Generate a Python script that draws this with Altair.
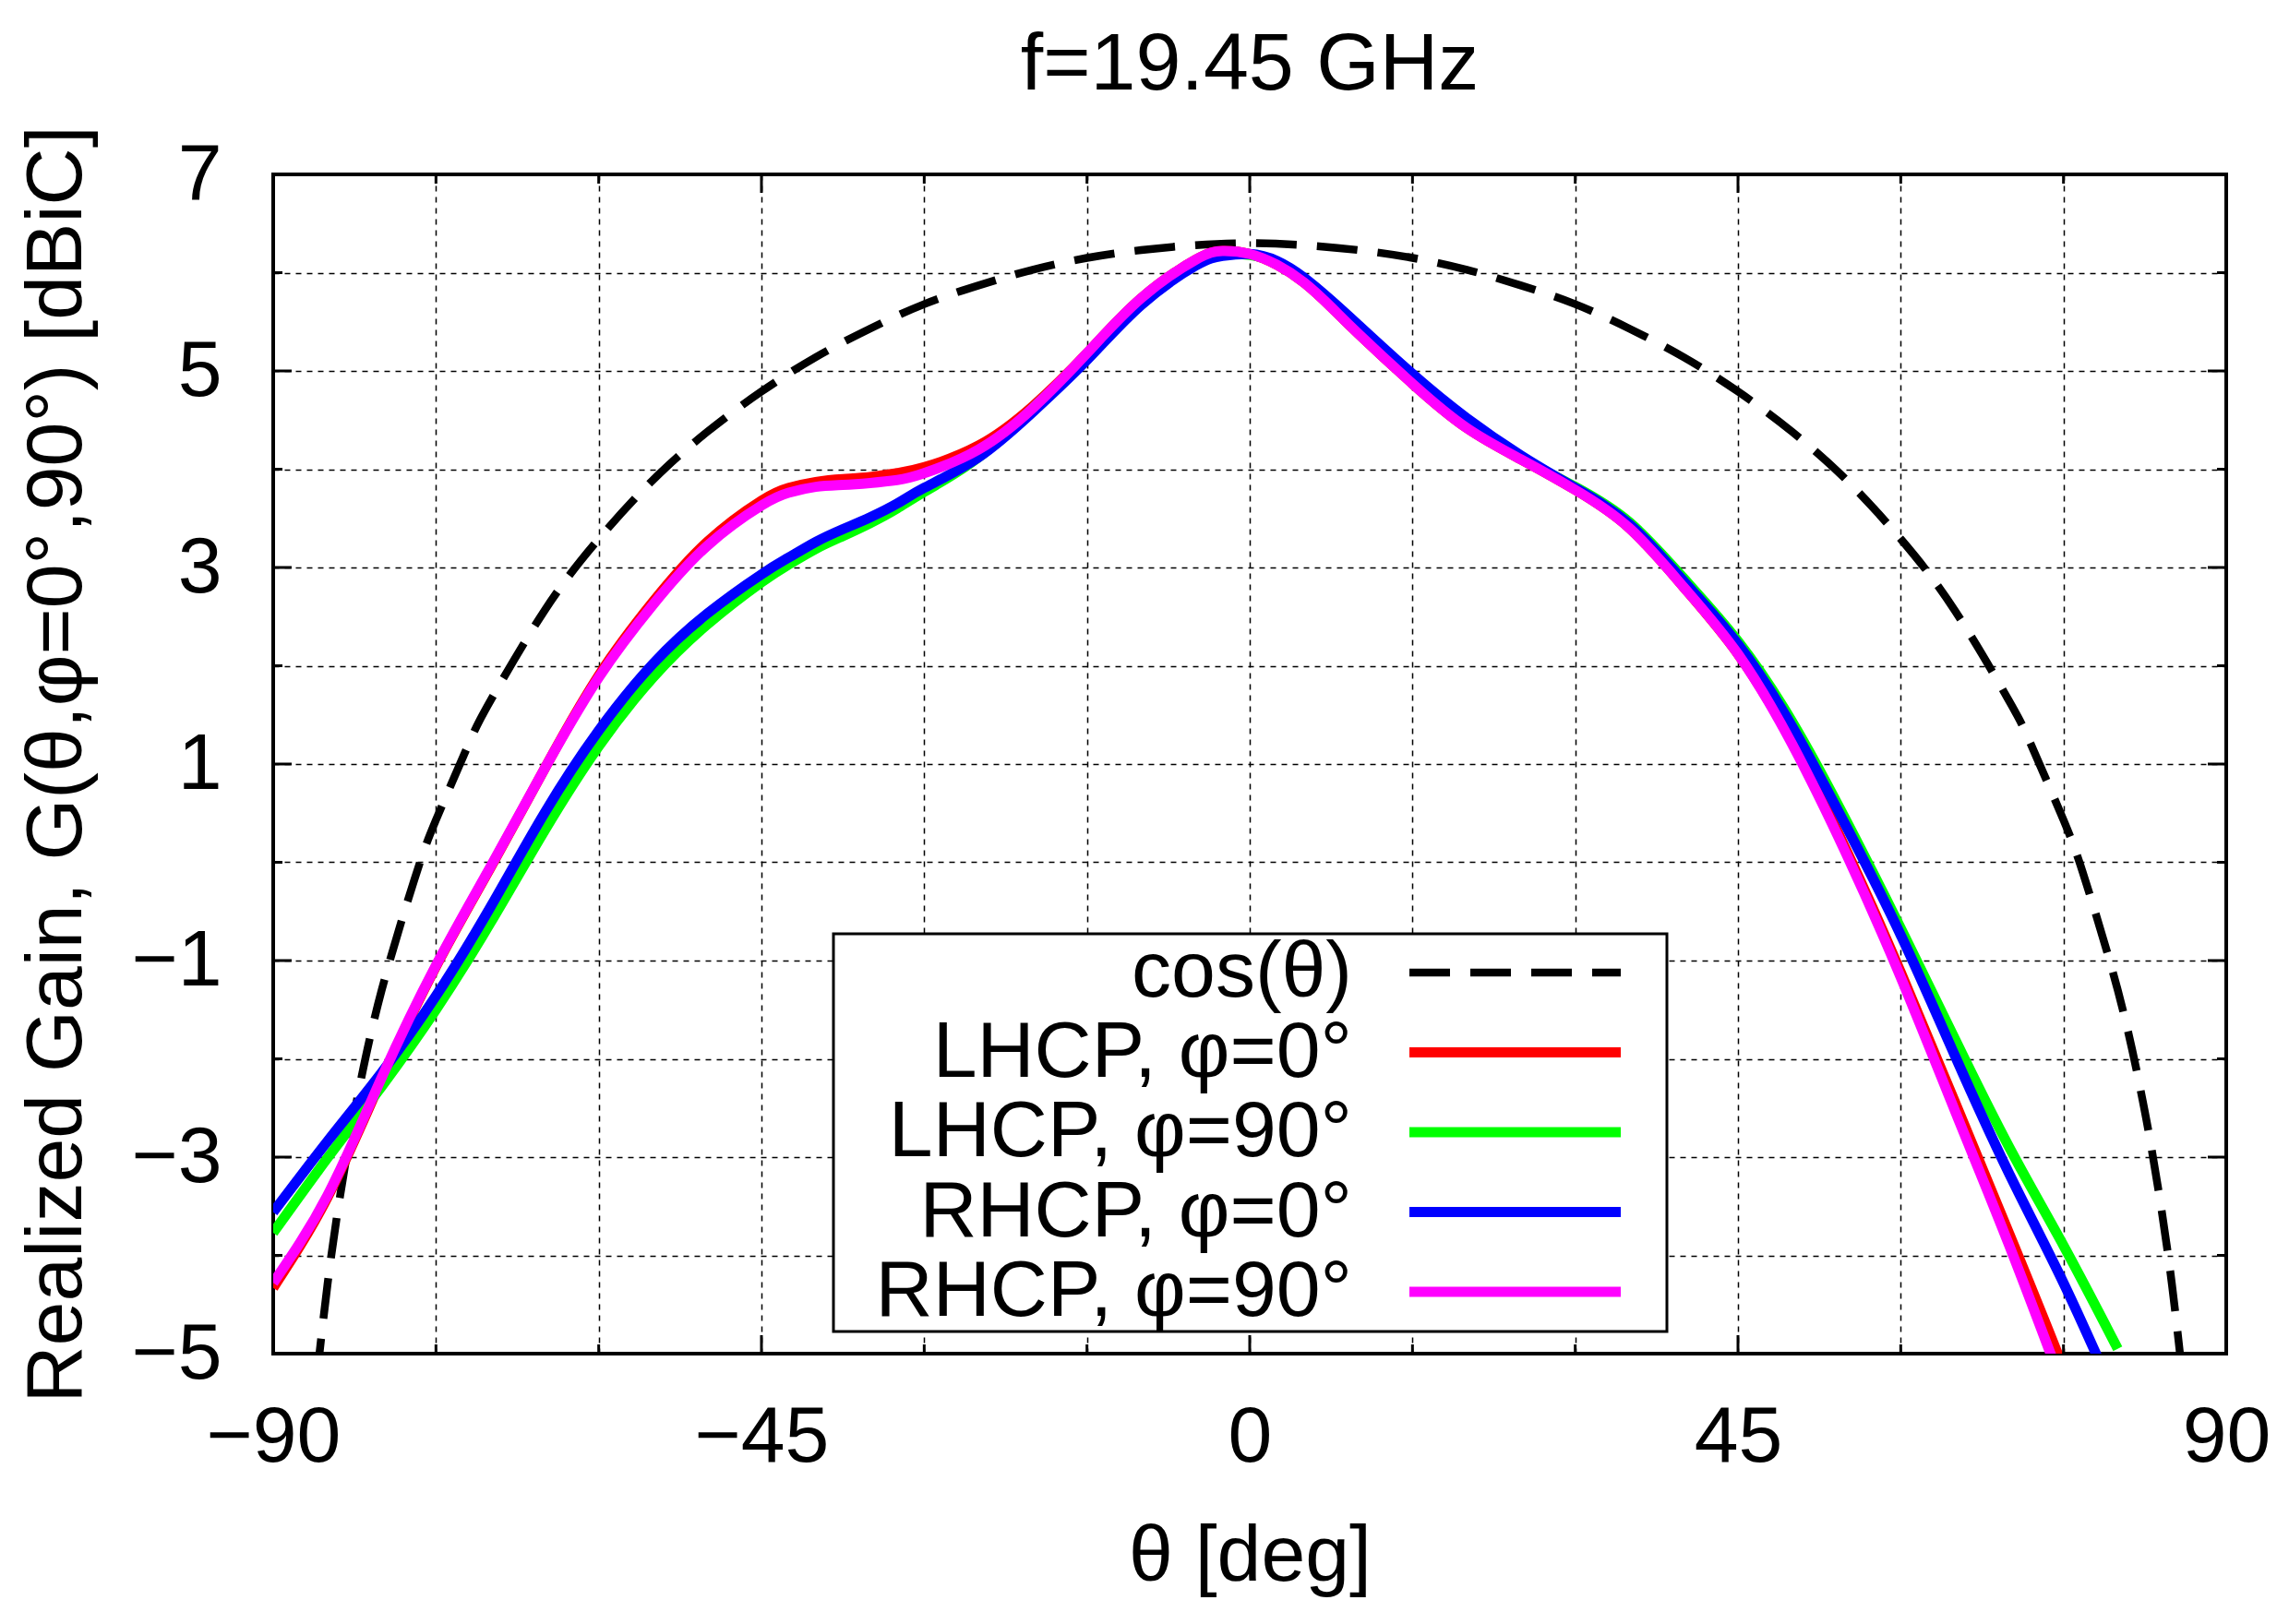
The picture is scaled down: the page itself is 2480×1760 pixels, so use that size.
import altair as alt
import pandas as pd

# ---------------- data ----------------
THETA = [-90, -85, -80, -75, -70, -65, -60, -55, -50, -45, -42.5, -40, -37.5, -35, -32.5,
         -30, -25, -20, -15, -10, -5, -2.5, 0, 2.5, 5, 7.5, 10, 15, 20, 25, 30, 35, 40, 45,
         50, 55, 60, 65, 70, 75, 80]

LHCP_PHI0 = [-4.33, -3.41, -2.21, -1.06, -0.06, 0.95, 1.90, 2.65, 3.26, 3.68, 3.81, 3.87, 3.90, 3.92, 3.96,
             4.02, 4.24, 4.64, 5.18, 5.74, 6.13, 6.22, 6.19, 6.08, 5.90, 5.65, 5.38, 4.87, 4.42, 4.10, 3.79,
             3.40, 2.80, 2.12, 1.22, 0.12, -1.12, -2.44, -3.78, -5.15, -6.60]

LHCP_PHI90 = [-3.77, -3.01, -2.28, -1.50, -0.62, 0.32, 1.18, 1.88, 2.42, 2.85, 3.03, 3.19, 3.32, 3.45, 3.60,
              3.77, 4.12, 4.62, 5.15, 5.71, 6.10, 6.19, 6.18, 6.10, 5.92, 5.68, 5.42, 4.92, 4.48, 4.12, 3.82,
              3.46, 2.89, 2.25, 1.43, 0.42, -0.67, -1.80, -2.90, -3.90, -4.95]

RHCP_PHI0 = [-3.56, -2.84, -2.14, -1.36, -0.46, 0.50, 1.34, 2.02, 2.53, 2.93, 3.10, 3.26, 3.39, 3.51, 3.65,
             3.81, 4.12, 4.58, 5.11, 5.67, 6.07, 6.17, 6.19, 6.12, 5.95, 5.72, 5.47, 4.97, 4.52, 4.14, 3.81,
             3.44, 2.86, 2.22, 1.38, 0.36, -0.74, -1.97, -3.17, -4.28, -5.50]

RHCP_PHI90 = [-4.28, -3.39, -2.19, -1.05, -0.05, 0.95, 1.88, 2.62, 3.22, 3.63, 3.76, 3.82, 3.84, 3.86, 3.89,
              3.96, 4.20, 4.62, 5.18, 5.74, 6.13, 6.22, 6.19, 6.08, 5.90, 5.65, 5.38, 4.87, 4.42, 4.10, 3.79,
              3.40, 2.80, 2.12, 1.20, 0.08, -1.17, -2.53, -3.90, -5.35, -6.80]

COS_THETA = [-86, -85, -84, -83, -82, -80, -77, -75, -72, -70, -65, -60, -55, -50, -45, -40, -35, -30,
             -25, -20, -15, -10, -5, 0, 5, 10, 15, 20, 25, 30, 35, 40, 45, 50, 55, 60, 65, 70, 72,
             75, 77, 80, 82, 83, 84, 85, 86]
COS_GAIN = [-5.26, -4.30, -3.51, -2.84, -2.26, -1.30, -0.18, 0.43, 1.20, 1.64, 2.56, 3.29, 3.89, 4.38, 4.79,
            5.14, 5.43, 5.68, 5.87, 6.03, 6.15, 6.23, 6.28, 6.30, 6.28, 6.23, 6.15, 6.03, 5.87, 5.68, 5.43,
            5.14, 4.79, 4.38, 3.89, 3.29, 2.56, 1.64, 1.20, 0.43, -0.18, -1.30, -2.26, -2.84, -3.51, -4.30, -5.26]

SERIES_LABELS = ["cos(θ)", "LHCP, φ=0°", "LHCP, φ=90°", "RHCP, φ=0°", "RHCP, φ=90°"]
SERIES_COLORS = ["#000000", "#ff0000", "#00ff00", "#0000ff", "#ff00ff"]

X_MAJOR = [-90, -45, 0, 45, 90]
X_MINOR = [-75, -60, -30, -15, 15, 30, 60, 75]
Y_MAJOR = [-5, -3, -1, 1, 3, 5, 7]
Y_MINOR = [-4, -2, 0, 2, 4, 6]

TITLE = "f=19.45 GHz"
X_TITLE = "θ [deg]"
Y_TITLE = "Realized Gain, G(θ,φ=0°,90°) [dBiC]"

# ---------------- styling ----------------
W, H = 2116, 1278
FONT = "Liberation Sans"
FS = 86

xscale = alt.Scale(domain=[-90, 90], nice=False, zero=False)
yscale = alt.Scale(domain=[-5, 7], nice=False, zero=False)

x_axis = alt.Axis(
    values=sorted(X_MAJOR + X_MINOR),
    labelExpr="datum.value % 45 == 0 ? replace(datum.label, '-', '\u2212') : ''",
    grid=True, gridColor="black", gridDash=[6, 6], gridWidth=1.5, gridOpacity=1,
    ticks=False, tickSize=0, domain=False,
    labelFont=FONT, labelFontSize=FS, labelColor="black",
    labelPadding=116, labelBaseline="alphabetic", labelFlush=False, labelOverlap=False,
    title=X_TITLE, titleFont=FONT, titleFontSize=FS, titleFontWeight="normal", titleColor="black",
    titleX=W / 2, titleY=245, titleBaseline="alphabetic", titleAlign="center", titleAngle=0,
)
y_axis = alt.Axis(
    values=sorted(Y_MAJOR + Y_MINOR),
    labelExpr="abs(datum.value % 2) == 1 ? replace(datum.label, '-', '\u2212') : ''",
    grid=True, gridColor="black", gridDash=[6, 6], gridWidth=1.5, gridOpacity=1,
    ticks=False, tickSize=0, domain=False,
    labelFont=FONT, labelFontSize=FS, labelColor="black",
    labelPadding=56, labelBaseline="middle", labelFlush=False, labelOverlap=False,
    title=Y_TITLE, titleFont=FONT, titleFontSize=FS, titleFontWeight="normal", titleColor="black",
    titleX=-209, titleY=H / 2, titleBaseline="alphabetic", titleAlign="center", titleAngle=270,
)


def curve(theta, gain, color, width, dash=None):
    df = pd.DataFrame({"theta": theta, "gain": gain})
    kw = dict(color=color, strokeWidth=width, clip=True, interpolate="natural", strokeCap="butt")
    if dash:
        kw["strokeDash"] = dash
    return alt.Chart(df).mark_line(**kw).encode(
        x=alt.X("theta:Q", scale=xscale, axis=x_axis),
        y=alt.Y("gain:Q", scale=yscale, axis=y_axis),
    )


layers = [
    curve(COS_THETA, COS_GAIN, SERIES_COLORS[0], 8.5, [44, 22]),
    curve(THETA, LHCP_PHI0, SERIES_COLORS[1], 11),
    curve(THETA, LHCP_PHI90, SERIES_COLORS[2], 11),
    curve(THETA, RHCP_PHI0, SERIES_COLORS[3], 11),
    curve(THETA, RHCP_PHI90, SERIES_COLORS[4], 11),
]

# inward ticks on all four sides (gnuplot style)
for vals, ln in ((X_MAJOR, 20), (X_MINOR, 10)):
    tdf = pd.DataFrame({"t": vals})
    for y0, y1 in ((H, H - ln), (0, ln)):
        layers.append(alt.Chart(tdf).mark_rule(color="black", strokeWidth=3).encode(
            x=alt.X("t:Q", scale=xscale, axis=x_axis), y=alt.value(y0), y2=alt.value(y1)))
for vals, ln in ((Y_MAJOR, 20), (Y_MINOR, 10)):
    tdf = pd.DataFrame({"t": vals})
    for x0, x1 in ((0, ln), (W, W - ln)):
        layers.append(alt.Chart(tdf).mark_rule(color="black", strokeWidth=3).encode(
            y=alt.Y("t:Q", scale=yscale, axis=y_axis), x=alt.value(x0), x2=alt.value(x1)))

one = pd.DataFrame({"k": [0]})

# chart title
layers.append(alt.Chart(one).mark_text(
    align="center", baseline="alphabetic", font=FONT, fontSize=88, color="black").encode(
    x=alt.value(W / 2), y=alt.value(-92), text=alt.value(TITLE)))

# legend box
layers.append(alt.Chart(one).mark_rect(fill="white", stroke="black", strokeWidth=3).encode(
    x=alt.value(607), x2=alt.value(1510), y=alt.value(823), y2=alt.value(1254)))
for i, (lab, col) in enumerate(zip(SERIES_LABELS, SERIES_COLORS)):
    ry = 865 + 86.5 * i
    layers.append(alt.Chart(one).mark_text(
        align="right", baseline="middle", font=FONT, fontSize=FS, color="black").encode(
        x=alt.value(1169), y=alt.value(ry), text=alt.value(lab)))
    rule_kw = dict(color=col, strokeWidth=8.5 if i == 0 else 11, strokeCap="butt")
    if i == 0:
        rule_kw["strokeDash"] = [44, 22]
    layers.append(alt.Chart(one).mark_rule(**rule_kw).encode(
        x=alt.value(1231), x2=alt.value(1460), y=alt.value(ry)))

chart = alt.layer(*layers).properties(
    width=W, height=H,
    autosize=alt.AutoSizeParams(type="none"),
    padding={"left": 288, "top": 181, "right": 60, "bottom": 285},
    background="white",
).configure_view(stroke="black", strokeWidth=4)

chart.save("out.html", embed_options={"renderer": "svg", "actions": False})
